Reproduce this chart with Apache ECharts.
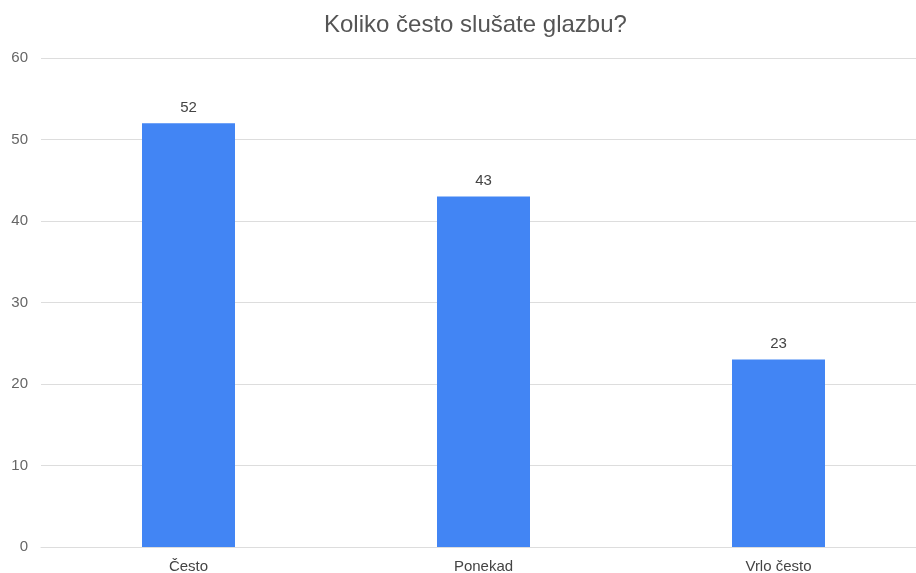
<!DOCTYPE html>
<html><head><meta charset="utf-8">
<script src="https://cdn.jsdelivr.net/npm/echarts@6/dist/echarts.min.js"></script>
<style>html,body{margin:0;padding:0;background:#fff}#c{width:916px;height:573px}</style>
</head><body><div id="c"></div>
<script>
const categories = ['Često', 'Ponekad', 'Vrlo često'];
const values = [52, 43, 23];
const yTicks = { min: 0, max: 60, interval: 10 };
const titleText = 'Koliko često slušate glazbu?';

const chart = echarts.init(document.getElementById('c'), null, { renderer: 'canvas' });
chart.setOption({
  animation: false,
  backgroundColor: '#ffffff',
  textStyle: { fontFamily: 'Arial, "Liberation Sans", sans-serif' },
  title: {
    text: titleText, left: 319, top: 8,
    textStyle: { fontSize: 24, fontWeight: 'normal', color: '#555555', fontFamily: 'Arial, "Liberation Sans", sans-serif' }
  },
  grid: { left: 41, top: 58, width: 885, height: 489, containLabel: false, outerBoundsMode: 'none' },
  xAxis: {
    type: 'category', data: categories,
    axisLine: { show: true, lineStyle: { color: '#dddddd', width: 1 } },
    axisTick: { show: false },
    axisLabel: { color: '#444444', fontSize: 15, margin: 12 }
  },
  yAxis: {
    type: 'value', min: yTicks.min, max: yTicks.max, interval: yTicks.interval,
    axisLine: { show: false }, axisTick: { show: false },
    splitLine: { lineStyle: { color: '#dddddd', width: 1 } },
    axisLabel: { color: '#666666', fontSize: 15, margin: 13 }
  },
  series: [{
    type: 'bar', data: values, barWidth: 93,
    itemStyle: { color: '#4285F4' },
    label: { show: true, position: 'top', distance: 8, color: '#444444', fontSize: 15 }
  }]
});
</script></body></html>
